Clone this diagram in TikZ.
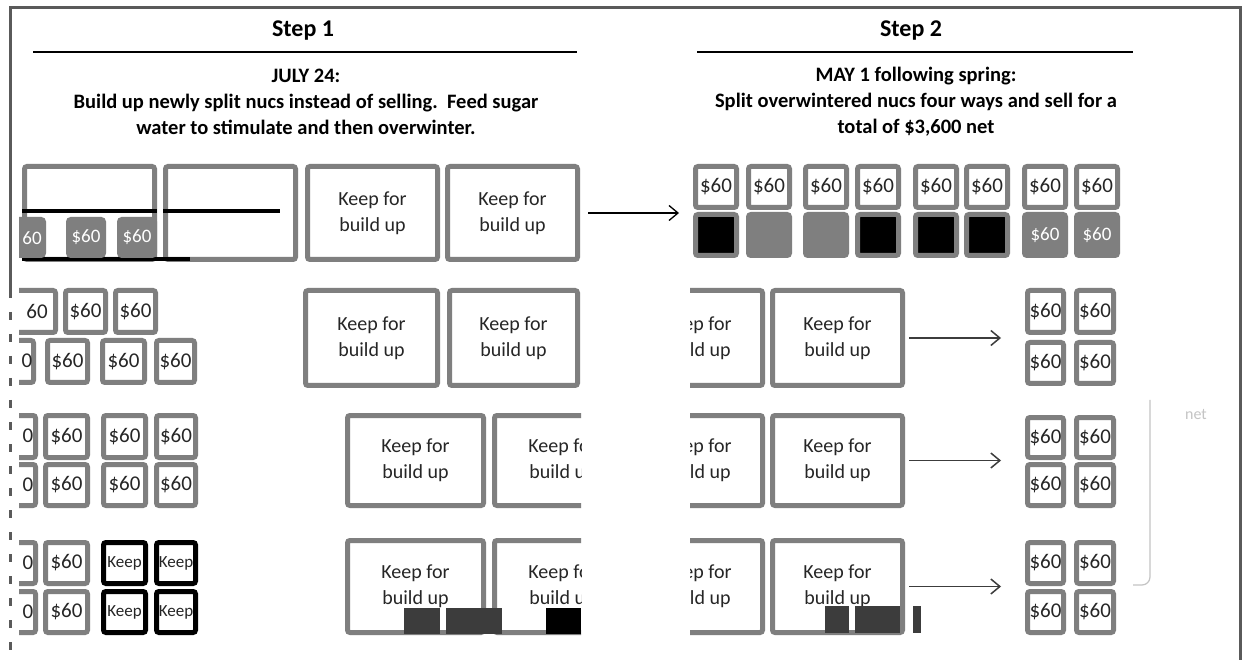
\documentclass[tikz,border=0pt]{standalone}
\usepackage{fontspec}
\setmainfont{Carlito}
\usetikzlibrary{arrows.meta}
\definecolor{boxgray}{HTML}{7F7F7F}
\definecolor{framegray}{HTML}{5A5A5A}
\definecolor{txt}{HTML}{262626}
\definecolor{faint}{HTML}{C4C4C4}
\definecolor{glitch}{HTML}{3C3C3C}
\newcommand\nucbox[7]{%
  \pgfmathsetmacro\nbw{#5-#3-5}\pgfmathsetmacro\nbh{#6-#4-5}%
  \node[#2, minimum width=\nbw pt, minimum height=\nbh pt] (#1) at ({(#3+#5)/2},{(#4+#6)/2}) {#7};}
\tikzset{
  nuc/.style={draw=boxgray, line width=5pt, rounded corners=2.5pt, fill=white, inner sep=0pt,
    text=txt, font=\fontsize{21}{21}\selectfont},
  bignuc/.style={nuc, align=center, font=\fontsize{20}{26}\selectfont},
  keepnuc/.style={nuc, draw=black, font=\fontsize{17}{17}\selectfont},
  darknuc/.style={nuc, fill=black, draw=boxgray},
  graynuc/.style={nuc, fill=boxgray, text=white, font=\fontsize{19}{19}\selectfont},
  partlbl/.style={inner sep=0pt, text=txt, font=\fontsize{21}{21}\selectfont},
  title/.style={font=\fontsize{24}{28}\selectfont\bfseries, text=black},
  desc/.style={font=\fontsize{20.5}{26}\selectfont\bfseries, align=center, text=black},
  rule/.style={black, line width=1.4pt},
  arr/.style={-{Straight Barb[length=9pt,width=15pt]}, line width=1.3pt, black},
  arrb/.style={-{Straight Barb[length=9pt,width=15pt]}, line width=1.5pt, draw=glitch},
  frame/.style={framegray, line width=3pt}
}
\begin{document}
\begin{tikzpicture}[x=1pt,y=-1pt]
\useasboundingbox[fill=white] (0,0) rectangle (1243,660);
% frame
\coordinate (fA) at (10,290); \coordinate (fB) at (10,8);
\coordinate (fC) at (1240,8); \coordinate (fD) at (1240,660);
\coordinate (fE) at (10,650);
\draw[frame] (fA) -- (fB) -- (fC) -- (fD);
\draw[frame, dash pattern=on 8pt off 14pt] (fA) -- (fE);
% headings
\node[title] (s1) at (303,31) {Step 1};
\coordinate (u1a) at (33,52); \coordinate (u1b) at (577,52);
\draw[rule] (u1a) -- (u1b);
\node[desc] (d1) at (306,102) {JULY 24:\\Build up newly split nucs instead of selling.\ \ Feed sugar\\water to stimulate and then overwinter.};
\node[title] (s2) at (911,31) {Step 2};
\coordinate (u2a) at (697,52); \coordinate (u2b) at (1133,52);
\draw[rule] (u2a) -- (u2b);
\node[desc] (d2) at (916,102) {MAY 1 following spring:\\Split overwintered nucs four ways and sell for a\\total of \$3,600 net};
% ---------- Step 1, row 1
\nucbox{r1a}{nuc}{22}{164}{157}{262}{}
\nucbox{r1b}{nuc}{163}{164}{298}{262}{}
\nucbox{r1c}{bignuc}{305}{164}{440}{262}{Keep for\\build up}
\nucbox{r1d}{bignuc}{445}{164}{580}{262}{Keep for\\build up}
\fill[black] (22,209) rectangle (157,213);
\fill[black] (163,209) rectangle (280,213);
\fill[black] (22,257) rectangle (190,261);
\begin{scope}
  \clip (19,0) rectangle (1243,660);
  \nucbox{g1}{graynuc}{0}{217}{46}{258}{}
\end{scope}
\node[partlbl, text=white, font=\fontsize{19}{19}\selectfont] (g1t) at (32,238) {60};
\nucbox{g2}{graynuc}{66}{217}{106}{258}{\$60}
\nucbox{g3}{graynuc}{117}{217}{157}{258}{\$60}
\draw[arr] ([xshift=8pt]r1d.east) -- ([xshift=99pt]r1d.east);
% ---------- Step 2, row 1
\foreach \i/\l in {1/693,2/746,3/803,4/855,5/913,6/964,7/1022,8/1074}{
  \nucbox{t\i}{nuc}{\l}{164}{\l+46}{210}{\$60}}
\foreach \i/\l in {1/693,4/855,5/913,6/964}{
  \nucbox{b\i}{darknuc}{\l}{212}{\l+46}{258}{}}
\foreach \i/\l in {2/746,3/803}{
  \nucbox{b\i}{graynuc}{\l}{212}{\l+46}{258}{}}
\foreach \i/\l in {7/1022,8/1074}{
  \nucbox{b\i}{graynuc}{\l}{212}{\l+46}{258}{\$60}}
% ---------- Step 1, rows 2-4: small nucs
\begin{scope}
  \clip (19,0) rectangle (1243,660);
  \nucbox{p2a}{nuc}{-8}{288}{58}{335}{}
  \nucbox{q2a}{nuc}{-10}{338}{36}{385}{}
  \nucbox{p3a}{nuc}{-8}{413}{38}{460}{}
  \nucbox{q3a}{nuc}{-8}{462}{38}{508}{}
  \nucbox{p4a}{nuc}{-8}{540}{38}{586}{}
  \nucbox{q4a}{nuc}{-8}{589}{38}{635}{}
\end{scope}
\node[partlbl] (p2at) at (37,311) {60};
\node[partlbl] (q2at) at (27,361) {0};
\node[partlbl] (p3at) at (28,436) {0};
\node[partlbl] (q3at) at (28,485) {0};
\node[partlbl] (p4at) at (28,563) {0};
\node[partlbl] (q4at) at (28,612) {0};
\nucbox{p2b}{nuc}{63}{288}{108}{335}{\$60}
\nucbox{p2c}{nuc}{113}{288}{158}{335}{\$60}
\nucbox{q2b}{nuc}{45}{338}{90}{385}{\$60}
\nucbox{q2c}{nuc}{100}{338}{147}{385}{\$60}
\nucbox{q2d}{nuc}{154}{338}{197}{385}{\$60}
\foreach \c/\l/\r in {b/43/90,c/101/148,d/154/198}{
  \nucbox{p3\c}{nuc}{\l}{413}{\r}{460}{\$60}
  \nucbox{q3\c}{nuc}{\l}{462}{\r}{508}{\$60}}
\nucbox{p4b}{nuc}{43}{540}{90}{586}{\$60}
\nucbox{q4b}{nuc}{43}{589}{90}{635}{\$60}
\foreach \c/\l/\r in {c/101/148,d/154/198}{
  \nucbox{p4\c}{keepnuc}{\l}{540}{\r}{586}{Keep}
  \nucbox{q4\c}{keepnuc}{\l}{589}{\r}{635}{Keep}}
% ---------- Step 1, rows 2-4: big nucs
\nucbox{k2a}{bignuc}{303}{288}{440}{388}{Keep for\\build up}
\nucbox{k2b}{bignuc}{447}{288}{580}{388}{Keep for\\build up}
\nucbox{k3a}{bignuc}{345}{413}{486}{508}{Keep for\\build up}
\nucbox{k4a}{bignuc}{345}{538}{486}{635}{Keep for\\build up}
\begin{scope}
  \clip (0,0) rectangle (581,660);
  \nucbox{k3b}{bignuc}{492}{413}{633}{508}{Keep for\\build up}
  \nucbox{k4b}{bignuc}{492}{538}{633}{635}{Keep for\\build up}
\end{scope}
\fill[glitch] (404,608) rectangle (440,634);
\fill[glitch] (446,608) rectangle (502,634);
\fill[black] (546,608) rectangle (581,634);
% ---------- Step 2, rows 2-4
\foreach \r/\ya/\yb in {2/288/388,3/413/508,4/538/635}{
  \begin{scope}
    \clip (690,0) rectangle (1243,660);
    \nucbox{m\r a}{bignuc}{630}{\ya}{765}{\yb}{Keep for\\build up}
  \end{scope}
  \nucbox{m\r b}{bignuc}{770}{\ya}{905}{\yb}{Keep for\\build up}
  \draw[arrb] ([xshift=4pt]m\r b.east) -- ([xshift=96pt]m\r b.east);
}
\foreach \r/\ya/\yb/\yc/\yd in {2/288/335/340/386,3/415/460/462/508,4/540/586/589/635}{
  \nucbox{n\r a}{nuc}{1025}{\ya}{1066}{\yb}{\$60}
  \nucbox{n\r b}{nuc}{1074}{\ya}{1116}{\yb}{\$60}
  \nucbox{n\r c}{nuc}{1025}{\yc}{1066}{\yd}{\$60}
  \nucbox{n\r d}{nuc}{1074}{\yc}{1116}{\yd}{\$60}
}
\fill[glitch] (825,606) rectangle (849,633);
\fill[glitch] (855,606) rectangle (900,633);
\fill[glitch] (913,606) rectangle (921,633);
% right bracket and faint text
\coordinate (brA) at (1150,400); \coordinate (brB) at (1150,585); \coordinate (brC) at (1133,585);
\draw[faint, line width=1.2pt, rounded corners=8pt] (brA) -- (brB) -- (brC);
\node[text=faint, font=\fontsize{16}{16}\selectfont] (net) at (1196,415) {net};
\end{tikzpicture}
\end{document}
